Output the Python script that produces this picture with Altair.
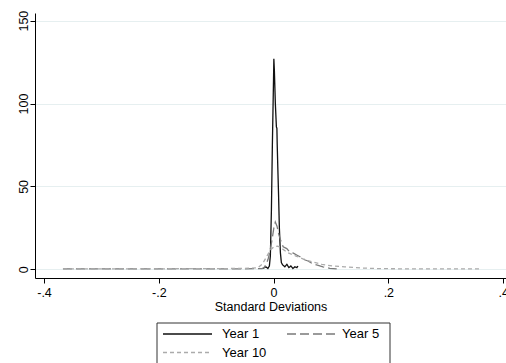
import altair as alt
import pandas as pd

# Year 1 (solid black)
y1_x = [-0.0186, -0.0134, -0.0099, -0.0073, -0.0056, -0.0038, -0.0021, -0.0003, 0.0005,
        0.0014, 0.0031, 0.0049, 0.0058, 0.0063, 0.0075, 0.0087, 0.0101, 0.0119, 0.0136,
        0.0162, 0.0197, 0.0232, 0.0267, 0.0302, 0.0337, 0.0371, 0.0406, 0.0424]
y1_v = [0.5, 1.5, 0.5, 2, 8, 35, 75, 110, 127, 120, 100, 86, 85, 76, 60, 45, 25, 10, 4,
        2.5, 1.5, 3, 1, 2, 0.5, 1.5, 1, 2]

# Year 5 (long dash, gray)
y5_x = [-0.367, -0.2, -0.05, -0.02, -0.0166, -0.013, -0.0096, -0.0061, -0.0026, 0.0005,
        0.003, 0.006, 0.0092, 0.0127, 0.0167, 0.023, 0.028, 0.0345, 0.041, 0.046, 0.055,
        0.060, 0.067, 0.075, 0.086, 0.098, 0.110]
y5_v = [0.3, 0.3, 0.3, 0.4, 1, 3, 6, 11, 18, 25, 28.5, 26, 21, 17, 13.6, 12.5, 10.5, 9.7,
        8.5, 7.6, 5.6, 5.0, 3.6, 2.6, 1.5, 0.6, 0.3]

# Year 10 (short dash, light gray)
y10_x = [-0.367, -0.2, -0.05, -0.027, -0.020, -0.013, -0.0061, 0.0005, 0.0075, 0.0145,
         0.025, 0.039, 0.053, 0.067, 0.084, 0.103, 0.124, 0.151, 0.185, 0.22, 0.30, 0.363]
y10_v = [0.3, 0.3, 0.5, 1, 3, 7, 11.5, 13.5, 14, 12.5, 10, 8, 6, 4.5, 3, 2, 1.5, 0.8, 0.4,
         0.3, 0.3, 0.3]

series = ["Year 1", "Year 5", "Year 10"]
colors = ["#111111", "#7a7a7a", "#ababab"]
dashes = [[1, 0], [9, 4], [4, 3]]
x_ticks = [-0.4, -0.2, 0, 0.2, 0.4]
y_ticks = [0, 50, 100, 150]

rows = []
for name, xs, vs in [("Year 1", y1_x, y1_v), ("Year 5", y5_x, y5_v), ("Year 10", y10_x, y10_v)]:
    for i, (a, b) in enumerate(zip(xs, vs)):
        rows.append({"x": a, "v": b, "series": name, "order": i})
df = pd.DataFrame(rows)

FONT = "Liberation Sans"

x_label = ("datum.value == 0 ? '0' : (datum.value < 0 ? '-' : '') + "
           "replace(format(abs(datum.value), '.1f'), '0.', '.')")

lines = alt.Chart(df).mark_line(strokeWidth=1.3).encode(
    x=alt.X("x:Q",
            scale=alt.Scale(domain=[-0.4157, 0.405], nice=False, zero=False),
            axis=alt.Axis(values=x_ticks, labelExpr=x_label,
                          title="Standard Deviations", grid=False,
                          tickSize=5, labelPadding=3, titlePadding=2,
                          labelFontSize=12.5, titleFontSize=12.5,
                          titleFontWeight="normal")),
    y=alt.Y("v:Q",
            scale=alt.Scale(domain=[-5.25, 154.6], nice=False, zero=False),
            axis=alt.Axis(values=y_ticks, title=None, grid=True,
                          gridColor="#e6eff0", gridWidth=1,
                          tickSize=5, labelAngle=270, labelAlign="center",
                          labelBaseline="middle", labelPadding=7,
                          labelFontSize=12.5)),
    color=alt.Color("series:N", scale=alt.Scale(domain=series, range=colors), legend=None),
    strokeDash=alt.StrokeDash("series:N", scale=alt.Scale(domain=series, range=dashes),
                              legend=None),
    order="order:Q",
)

# Legend drawn by hand (positions in pixels relative to the plot area)
one = pd.DataFrame({"k": [0]})
box = alt.Chart(one).mark_rect(fill="white", stroke="#333333", strokeWidth=1).encode(
    x=alt.value(122), x2=alt.value(355), y=alt.value(310), y2=alt.value(380))

key_pos = [(128, 177, 321, 187), (252, 300, 321, 307), (128, 177, 339.5, 187)]
legend_layers = [box]
for name, col, dash, (xa, xb, yy, tx) in zip(series, colors, dashes, key_pos):
    legend_layers.append(
        alt.Chart(one).mark_rule(color=col, strokeDash=dash, strokeWidth=1.3).encode(
            x=alt.value(xa), x2=alt.value(xb), y=alt.value(yy)))
    legend_layers.append(
        alt.Chart(one).mark_text(text=name, align="left", baseline="middle",
                                 fontSize=13, font=FONT, color="black").encode(
            x=alt.value(tx), y=alt.value(yy)))

chart = alt.layer(lines, *legend_layers).properties(
    width=471, height=265,
    autosize=alt.AutoSizeParams(type="none"),
    padding={"left": 35, "top": 13, "right": 0, "bottom": 85},
).configure(
    font=FONT,
).configure_axis(
    domainColor="#000000", tickColor="#000000", labelColor="#000000",
    titleColor="#000000", labelFont=FONT, titleFont=FONT,
).configure_view(
    stroke=None,
)

chart.save("out.html", embed_options={"renderer": "svg", "actions": False})
